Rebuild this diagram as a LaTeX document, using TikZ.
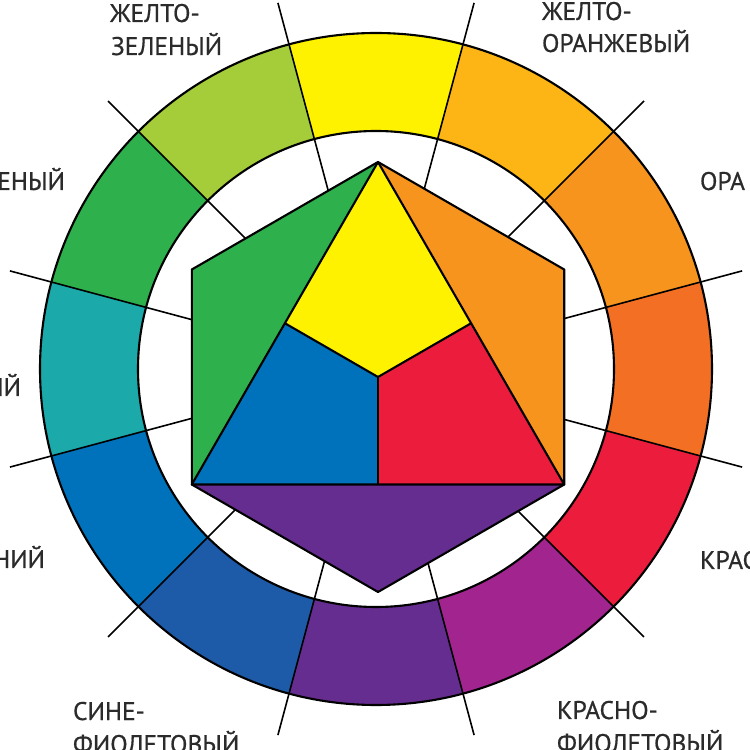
\documentclass[tikz,border=0pt]{standalone}
\usepackage{fontspec}
\setmainfont[FakeBold=0.6]{PT Sans}
\definecolor{cY}{HTML}{FFF200}
\definecolor{cYO}{HTML}{FDB515}
\definecolor{cO}{HTML}{F7941D}
\definecolor{cRO}{HTML}{F36F24}
\definecolor{cR}{HTML}{EC1C3D}
\definecolor{cRV}{HTML}{A2248F}
\definecolor{cV}{HTML}{662D91}
\definecolor{cBV}{HTML}{1D5AA7}
\definecolor{cB}{HTML}{0072BC}
\definecolor{cT}{HTML}{1CA9AA}
\definecolor{cG}{HTML}{2EB04C}
\definecolor{cYG}{HTML}{A5CD39}
\definecolor{labelgray}{HTML}{2B2B2B}
\begin{document}
\begin{tikzpicture}[x=1pt,y=1pt,
  lbl/.style={font=\fontsize{25.5}{30}\selectfont, text=labelgray, inner sep=0pt, outer sep=0pt},
  edgeline/.style={line width=2.1pt, draw=black, line join=round},
  spoke/.style={line width=1.6pt, draw=black}]
\useasboundingbox (0,0) rectangle (750,750);
\clip (0,0) rectangle (750,750);
\fill[white] (0,0) rectangle (750,750);
% colour ring
\begin{scope}[shift={(376,381)}]
  \coordinate (C) at (0,0);
  \foreach \a/\c in {90/cY,120/cYG,150/cG,180/cT,210/cB,240/cBV,270/cV,300/cRV,330/cR,0/cRO,30/cO,60/cYO}{
    \pgfmathsetmacro\s{\a-15}
    \pgfmathsetmacro\e{\a+15}
    \fill[\c] (\s:336) arc[start angle=\s,end angle=\e,radius=336]
      -- (\e:238) arc[start angle=\e,end angle=\s,radius=238] -- cycle;
  }
  \foreach \a in {15,45,...,345}{
    \coordinate (s\a) at (\a:379);
    \draw[spoke] (C) -- (s\a);
  }
  \draw[edgeline] (C) circle[radius=336];
  \draw[edgeline] (C) circle[radius=238];
\end{scope}
% hexagon and triangle
\begin{scope}[shift={(378,373)}]
  \coordinate (O) at (0,0);
  \coordinate (T) at (90:215);
  \coordinate (UR) at (30:215);
  \coordinate (LR) at (-30:215);
  \coordinate (B) at (-90:215);
  \coordinate (LL) at (210:215);
  \coordinate (UL) at (150:215);
  \coordinate (mL) at (-93.1,53.75);
  \coordinate (mR) at (93.1,53.75);
  \coordinate (mB) at (0,-107.5);
  \fill[cG] (UL) -- (T) -- (LL) -- cycle;
  \fill[cO] (T) -- (UR) -- (LR) -- cycle;
  \fill[cV] (LL) -- (LR) -- (B) -- cycle;
  \fill[cY] (T) -- (mR) -- (O) -- (mL) -- cycle;
  \fill[cR] (mR) -- (LR) -- (mB) -- (O) -- cycle;
  \fill[cB] (mL) -- (O) -- (mB) -- (LL) -- cycle;
  \draw[edgeline] (T) -- (UR) -- (LR) -- (B) -- (LL) -- (UL) -- cycle;
  \draw[edgeline] (T) -- (LR) -- (LL) -- cycle;
  \draw[edgeline] (mL) -- (O) -- (mR);
  \draw[edgeline] (O) -- (mB);
\end{scope}
% labels
\node[lbl, anchor=base west] (yg1) at (110,728) {ЖЕЛТО-};
\node[lbl, anchor=base west] (yg2) at (111,695) {ЗЕЛЕНЫЙ};
\node[lbl, anchor=base west] (yo1) at (542,730) {ЖЕЛТО-};
\node[lbl, anchor=base west] (yo2) at (542,698) {ОРАНЖЕВЫЙ};
\node[lbl, anchor=base west] (or) at (700,560) {ОРА};
\node[lbl, anchor=base east] (gr) at (65,560) {ЕНЫЙ};
\node[lbl, anchor=base east] (bg) at (21,354) {ИЙ};
\node[lbl, anchor=base east] (bl) at (45,182) {НИЙ};
\node[lbl, anchor=base west] (rd) at (700,181) {КРАС};
\node[lbl, anchor=base west] (bv1) at (73,30) {СИНЕ-};
\node[lbl, anchor=base west] (bv2) at (73,-3) {ФИОЛЕТОВЫЙ};
\node[lbl, anchor=base west] (rv1) at (557,31) {КРАСНО-};
\node[lbl, anchor=base west] (rv2) at (557,-2) {ФИОЛЕТОВЫЙ};
\end{tikzpicture}
\end{document}
